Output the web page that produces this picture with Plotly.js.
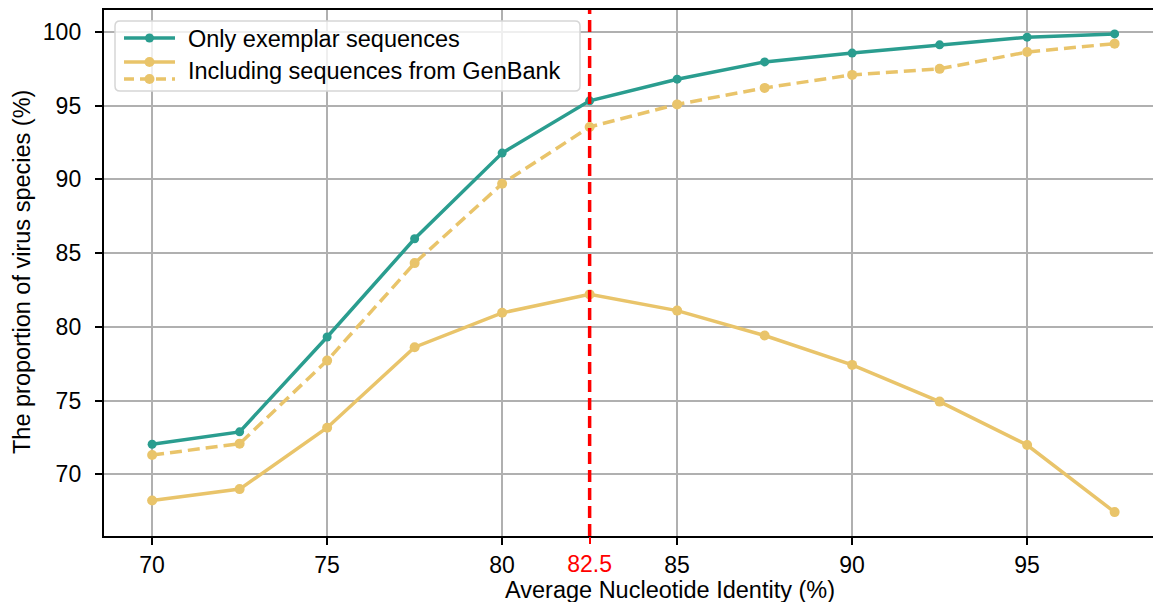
<!DOCTYPE html>
<html>
<head>
<meta charset="utf-8">
<script src="https://cdn.plot.ly/plotly-3.0.1.min.js"></script>
<style>
html,body{margin:0;padding:0;overflow:hidden;background:#fff;}
#chart{width:1153px;height:602px;}
</style>
</head>
<body>
<div id="chart"></div>
<script>
// Data
const ani = [70, 72.5, 75, 77.5, 80, 82.5, 85, 87.5, 90, 92.5, 95, 97.5];
const exemplarOnly = [72.04, 72.88, 79.31, 85.97, 91.78, 95.32, 96.79, 97.96, 98.56, 99.12, 99.64, 99.86];
const genbankSolid = [68.23, 69.0, 73.16, 78.62, 80.95, 82.2, 81.1, 79.41, 77.42, 74.93, 71.99, 67.44];
const genbankDashed = [71.31, 72.08, 77.71, 84.32, 89.7, 93.55, 95.08, 96.2, 97.08, 97.49, 98.63, 99.2];
const threshold = 82.5;
const xTicks = [70, 75, 80, 85, 90, 95];
const yTicks = [70, 75, 80, 85, 90, 95, 100];
const seriesNames = ["Only exemplar sequences", "Including sequences from GenBank"];
const xTitle = "Average Nucleotide Identity (%)";
const yTitle = "The proportion of virus species (%)";

const teal = "#2a9d8f";
const gold = "#e9c46a";
const FONT = "Liberation Sans, Arial, Helvetica, sans-serif";
const FS = 23;
const FS_L = 23.5;

const yMin = 65.82, yMax = 101.48;

// plot area in pixels
const W = 1153, H = 602;
const L = 104, T = 10, R = 0, B = 66;
const PW = W - L - R, PH = H - T - B;
const px = v => (v - L) / PW;
const py = v => (H - B - v) / PH;

const traces = [
  {x: ani, y: genbankSolid, type: "scatter", mode: "lines+markers", name: seriesNames[1],
   line: {color: gold, width: 3.5}, marker: {color: gold, size: 10}, showlegend: false},
  {x: ani, y: genbankDashed, type: "scatter", mode: "lines+markers", name: seriesNames[1],
   line: {color: gold, width: 3.5, dash: "12px,6px"}, marker: {color: gold, size: 10}, showlegend: false},
  {x: ani, y: exemplarOnly, type: "scatter", mode: "lines+markers", name: seriesNames[0],
   line: {color: teal, width: 3.5}, marker: {color: teal, size: 9}, showlegend: false},
  {x: [threshold, threshold], y: [yMin, yMax], xaxis: "x2", type: "scatter", mode: "lines",
   line: {color: "#ff0000", width: 3.5, dash: "12px,6px"}, showlegend: false, hoverinfo: "skip"}
];

// Legend (drawn as decorations)
const lx0 = 115, ly0 = 21, lx1 = 580, ly1 = 91, r = 5;
const legendPath = `M ${px(lx0 + r)} ${py(ly0)} L ${px(lx1 - r)} ${py(ly0)} Q ${px(lx1)} ${py(ly0)} ${px(lx1)} ${py(ly0 + r)} ` +
  `L ${px(lx1)} ${py(ly1 - r)} Q ${px(lx1)} ${py(ly1)} ${px(lx1 - r)} ${py(ly1)} L ${px(lx0 + r)} ${py(ly1)} ` +
  `Q ${px(lx0)} ${py(ly1)} ${px(lx0)} ${py(ly1 - r)} L ${px(lx0)} ${py(ly0 + r)} Q ${px(lx0)} ${py(ly0)} ${px(lx0 + r)} ${py(ly0)} Z`;

const shapes = [
  {type: "path", xref: "paper", yref: "paper", path: legendPath, fillcolor: "rgba(255,255,255,0.8)",
   line: {color: "#d6d6d6", width: 1.5}, layer: "above"},
  {type: "line", xref: "paper", yref: "paper", x0: px(124), x1: px(175), y0: py(38), y1: py(38),
   line: {color: teal, width: 3.5}, layer: "above"},
  {type: "circle", xref: "paper", yref: "paper", x0: px(145), x1: px(154), y0: py(33.5), y1: py(42.5),
   fillcolor: teal, line: {width: 0}, layer: "above"},
  {type: "line", xref: "paper", yref: "paper", x0: px(124), x1: px(175), y0: py(62), y1: py(62),
   line: {color: gold, width: 3.5}, layer: "above"},
  {type: "circle", xref: "paper", yref: "paper", x0: px(144.5), x1: px(154.5), y0: py(57), y1: py(67),
   fillcolor: gold, line: {width: 0}, layer: "above"},
  {type: "line", xref: "paper", yref: "paper", x0: px(124), x1: px(175), y0: py(79), y1: py(79),
   line: {color: gold, width: 3.5, dash: "10px,6px"}, layer: "above"},
  {type: "circle", xref: "paper", yref: "paper", x0: px(144.5), x1: px(154.5), y0: py(74), y1: py(84),
   fillcolor: gold, line: {width: 0}, layer: "above"}
];

const annotations = [
  {xref: "paper", yref: "paper", x: px(186), y: py(39), xanchor: "left", yanchor: "middle",
   text: seriesNames[0], showarrow: false, font: {family: FONT, size: FS_L, color: "#000"}},
  {xref: "paper", yref: "paper", x: px(186), y: py(71), xanchor: "left", yanchor: "middle",
   text: seriesNames[1], showarrow: false, font: {family: FONT, size: FS_L, color: "#000"}},
  {xref: "paper", yref: "paper", x: px(669.5), y: py(590), xanchor: "center", yanchor: "middle",
   text: xTitle, showarrow: false, font: {family: FONT, size: FS_L, color: "#000"}},
  {xref: "paper", yref: "paper", x: px(22), y: py(272), xanchor: "center", yanchor: "middle",
   textangle: -90, text: yTitle, showarrow: false, font: {family: FONT, size: FS_L, color: "#000"}}
];

const xRange = [68.625, 68.625 + PW / 35.0];

const layout = {
  width: W, height: H,
  margin: {l: L, r: R, t: T, b: B, pad: 0},
  paper_bgcolor: "#fff", plot_bgcolor: "#fff",
  font: {family: FONT, size: FS, color: "#000"},
  showlegend: false,
  xaxis: {
    range: xRange, tickvals: xTicks, ticktext: xTicks.map(String),
    showgrid: true, gridcolor: "#b0b0b0", gridwidth: 2,
    zeroline: false, showline: true, linecolor: "#000", linewidth: 2.2, mirror: true,
    ticks: "outside", ticklen: 7, tickwidth: 2, tickcolor: "#000",
    tickfont: {family: FONT, size: FS, color: "#000"}
  },
  xaxis2: {
    overlaying: "x", matches: "x", range: xRange, tickvals: [threshold], ticktext: [String(threshold)],
    showgrid: false, zeroline: false, showline: false, side: "bottom",
    ticks: "outside", ticklen: 7, tickwidth: 2, tickcolor: "#ff0000",
    tickfont: {family: FONT, size: FS, color: "#ff0000"}
  },
  yaxis: {
    range: [yMin, yMax], tickvals: yTicks, ticktext: yTicks.map(String),
    showgrid: true, gridcolor: "#b0b0b0", gridwidth: 2,
    zeroline: false, showline: true, linecolor: "#000", linewidth: 2.2, mirror: false,
    ticks: "outside", ticklen: 7, tickwidth: 2, tickcolor: "#000",
    ticklabelstandoff: 9,
    tickfont: {family: FONT, size: FS, color: "#000"}
  },
  shapes: shapes,
  annotations: annotations
};

Plotly.newPlot("chart", traces, layout, {staticPlot: true, displayModeBar: false});
</script>
</body>
</html>
